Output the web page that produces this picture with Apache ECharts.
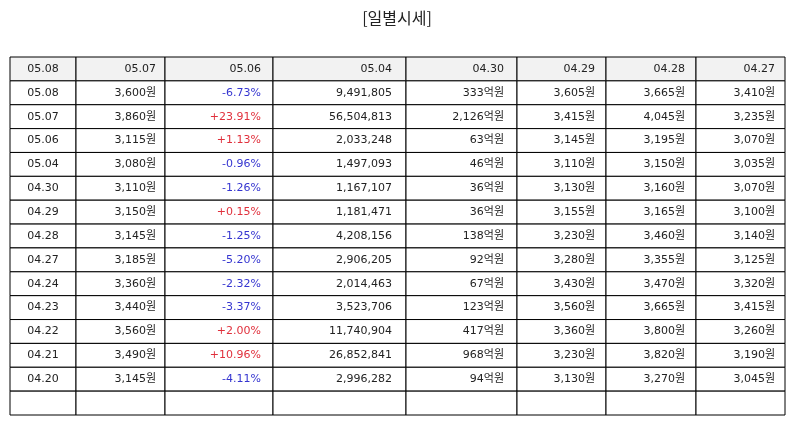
<!DOCTYPE html>
<html>
<head>
<meta charset="utf-8">
<script src="https://cdn.jsdelivr.net/npm/echarts@6/dist/echarts.min.js"></script>
<style>
  html, body { margin: 0; padding: 0; background: #fff; }
  #chart { width: 794px; height: 425px; }
</style>
</head>
<body>
<div id="chart"></div>
<script>
//Données du tableau
const headers = ['05.08', '05.07', '05.06', '05.04', '04.30', '04.29', '04.28', '04.27'];
const dates   = ['05.08', '05.07', '05.06', '05.04', '04.30', '04.29', '04.28', '04.27', '04.24', '04.23', '04.22', '04.21', '04.20'];
const closes  = [3600, 3860, 3115, 3080, 3110, 3150, 3145, 3185, 3360, 3440, 3560, 3490, 3145];
const changes = [-6.73, 23.91, 1.13, -0.96, -1.26, 0.15, -1.25, -5.20, -2.32, -3.37, 2.00, 10.96, -4.11];
const volumes = [9491805, 56504813, 2033248, 1497093, 1167107, 1181471, 4208156, 2906205, 2014463, 3523706, 11740904, 26852841, 2996282];
const amounts = [333, 2126, 63, 46, 36, 36, 138, 92, 67, 123, 417, 968, 94];
const opens   = [3605, 3415, 3145, 3110, 3130, 3155, 3230, 3280, 3430, 3560, 3360, 3230, 3130];
const highs   = [3665, 4045, 3195, 3150, 3160, 3165, 3460, 3355, 3470, 3665, 3800, 3820, 3270];
const lows    = [3410, 3235, 3070, 3035, 3070, 3100, 3140, 3125, 3320, 3415, 3260, 3190, 3045];

//Mise en page des colonnes
const colWidths = [66, 89, 108, 133, 111, 89, 90, 89];
const colPad    = [0, 9, 12, 14, 13, 11, 11, 10];
const colStart  = colWidths.map((w, i) => colWidths.slice(0, i).reduce((a, b) => a + b, 0));
const totalW    = colWidths.reduce((a, b) => a + b, 0);
const nRows     = dates.length + 2; // en-tête + lignes + ligne vide

const fmt = v => v.toLocaleString('en-US');
const won = v => fmt(v) + '원';

//Construction des cellules : [col, ligne, texte, couleur, fond]
const cells = [];
headers.forEach((h, c) => cells.push([c, 0, h, '#222', '#f2f2f2']));
dates.forEach((d, i) => {
  const r = i + 1;
  const ch = changes[i];
  const chTxt = (ch > 0 ? '+' : '') + ch.toFixed(2) + '%';
  const chCol = ch > 0 ? '#e0303c' : '#3535d0';
  const row = [d, won(closes[i]), chTxt, fmt(volumes[i]), fmt(amounts[i]) + '억원', won(opens[i]), won(highs[i]), won(lows[i])];
  row.forEach((t, c) => cells.push([c, r, t, c === 2 ? chCol : '#222', '#fff']));
});
for (let c = 0; c < headers.length; c++) cells.push([c, nRows - 1, '', '#222', '#fff']);

const chart = echarts.init(document.getElementById('chart'));
chart.setOption({
  animation: false,
  title: {
    text: '[일별시세]',
    left: 'center',
    top: 5,
    textStyle: { fontFamily: 'Noto Sans CJK KR', fontSize: 16, fontWeight: 'normal', color: '#222' }
  },
  grid: { left: 10, right: 9, top: 57, bottom: 10 },
  xAxis: { type: 'value', min: 0, max: totalW, show: false },
  yAxis: { type: 'category', data: Array.from({ length: nRows }, (_, i) => i), inverse: true, show: false },
  series: [{
    type: 'custom',
    data: cells,
    encode: { x: 0, y: 1 },
    renderItem: (params, api) => {
      const c = api.value(0);
      const r = api.value(1);
      const item = cells[params.dataIndex];
      const h = api.size([0, 1])[1];
      const p0 = api.coord([colStart[c], r]);
      const p1 = api.coord([colStart[c] + colWidths[c], r]);
      const x = p0[0], y = p0[1] - h / 2, w = p1[0] - p0[0];
      const centered = c === 0;
      return {
        type: 'group',
        children: [
          {
            type: 'rect',
            shape: { x: x, y: y, width: w, height: h },
            style: { fill: item[4], stroke: '#000', lineWidth: 1 }
          },
          {
            type: 'text',
            x: centered ? x + w / 2 : x + w - colPad[c],
            y: y + h / 2,
            style: {
              text: item[2],
              fill: item[3],
              fontFamily: 'DejaVu Sans, Noto Sans CJK KR',
              fontSize: 11,
              align: centered ? 'center' : 'right',
              verticalAlign: 'middle'
            }
          }
        ]
      };
    }
  }]
});

window.addEventListener('resize', () => chart.resize());
</script>
</body>
</html>
